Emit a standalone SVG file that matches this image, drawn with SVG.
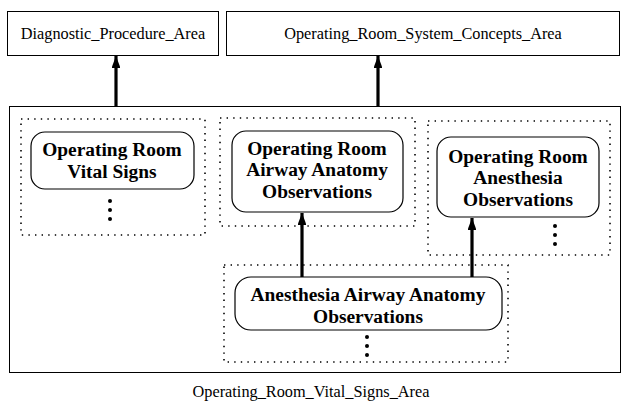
<svg xmlns="http://www.w3.org/2000/svg" width="627" height="405" viewBox="0 0 627 405">
<defs>
<style>
.box{fill:#fff;stroke:#000;stroke-width:1}
.dot{fill:none;stroke:#000;stroke-width:1.6;stroke-dasharray:1.4 5.2;stroke-linecap:butt}
.node{fill:#fff;stroke:#000;stroke-width:1.2}
.lbl{font-family:"Liberation Serif","Times New Roman",serif;font-size:16.3px;fill:#000}
.nl{font-family:"Liberation Serif","Times New Roman",serif;font-size:19.4px;font-weight:bold;fill:#000;text-anchor:middle}
.edge{stroke:#000;stroke-width:3.2;fill:none}
</style>
<marker id="ah" viewBox="0 0 12 9" refX="12" refY="4.5" markerWidth="3.75" markerHeight="2.8" orient="auto" markerUnits="strokeWidth">
<path d="M0,0 L12,4.5 L0,9 Z" fill="#000"/>
</marker>
</defs>
<rect width="627" height="405" fill="#fff"/>
<g id="diagnostic_area">
<rect class="box" x="7.5" y="11.5" width="211" height="44"/>
<text class="lbl" x="113" y="39" text-anchor="middle">Diagnostic_Procedure_Area</text>
</g>
<g id="system_concepts_area">
<rect class="box" x="226.5" y="11.5" width="393" height="44"/>
<text class="lbl" x="423" y="39" text-anchor="middle">Operating_Room_System_Concepts_Area</text>
</g>
<g id="vital_signs_area">
<rect class="box" x="9.5" y="106.5" width="611" height="266"/>
<text class="lbl" x="311" y="397" text-anchor="middle">Operating_Room_Vital_Signs_Area</text>
</g>
<g id="group_vital">
<rect class="dot" x="21" y="119" width="184" height="116"/>
</g>
<g id="group_airway">
<rect class="dot" x="220" y="118" width="195" height="108"/>
</g>
<g id="group_anesthesia">
<rect class="dot" x="428" y="121" width="182" height="134"/>
</g>
<g id="group_anes_airway">
<rect class="dot" x="224" y="265" width="284" height="97"/>
</g>
<g id="node_vital">
<rect class="node" x="31" y="132" width="163" height="57" rx="14"/>
<text class="nl" x="112" y="156">Operating Room</text>
<text class="nl" x="112" y="178">Vital Signs</text>
<circle cx="110" cy="201" r="2"/><circle cx="110" cy="210" r="2"/><circle cx="110" cy="219" r="2"/>
</g>
<g id="node_airway">
<rect class="node" x="232" y="131" width="171" height="81" rx="14"/>
<text class="nl" x="317" y="155">Operating Room</text>
<text class="nl" x="317" y="176">Airway Anatomy</text>
<text class="nl" x="317" y="198">Observations</text>
</g>
<g id="node_anesthesia">
<rect class="node" x="437" y="137" width="162" height="80" rx="14"/>
<text class="nl" x="518" y="163">Operating Room</text>
<text class="nl" x="518" y="184">Anesthesia</text>
<text class="nl" x="518" y="206">Observations</text>
<circle cx="555" cy="226" r="2"/><circle cx="555" cy="235" r="2"/><circle cx="555" cy="244" r="2"/>
</g>
<g id="node_anes_airway">
<rect class="node" x="235" y="277" width="267" height="53" rx="16"/>
<text class="nl" x="368" y="301">Anesthesia Airway Anatomy</text>
<text class="nl" x="368" y="323">Observations</text>
<circle cx="367" cy="337" r="2"/><circle cx="367" cy="346" r="2"/><circle cx="367" cy="355" r="2"/>
</g>
<g id="connectors">
<line class="edge" x1="116" y1="106" x2="116" y2="56" marker-end="url(#ah)"/>
<line class="edge" x1="378" y1="106" x2="378" y2="56" marker-end="url(#ah)"/>
<line class="edge" x1="302" y1="277" x2="302" y2="213" marker-end="url(#ah)"/>
<line class="edge" x1="472" y1="277" x2="472" y2="218" marker-end="url(#ah)"/>
</g>
</svg>
